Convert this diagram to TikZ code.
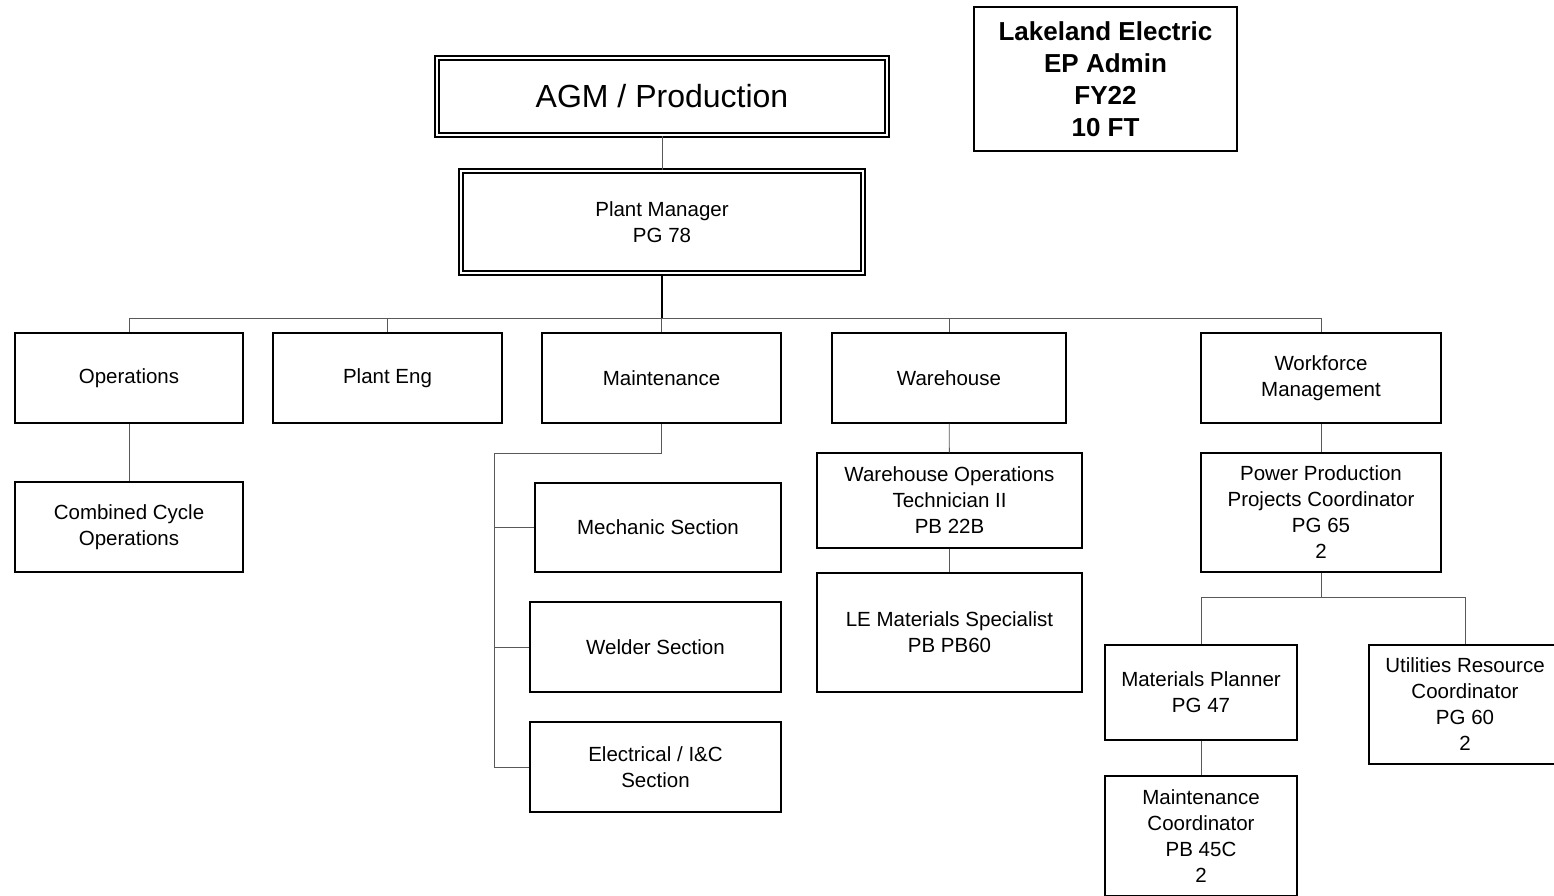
\documentclass[tikz,border=0pt]{standalone}
\usepackage{fontspec}
\setmainfont{Liberation Sans}
\usepackage{tikz}
\usetikzlibrary{calc}

\begin{document}
\begin{tikzpicture}[x=1pt, y=-1pt,
    unit/.style={draw, line width=1.4pt, align=center, inner sep=0pt, font=\fontsize{20.5}{26}\selectfont},
    headunit/.style={unit, double, double distance=2.2pt, line width=1.8pt},
    link/.style={draw=black!65, line width=0.9pt},
    trunk/.style={draw=black, line width=1.6pt}]
                    \useasboundingbox (0,0) rectangle (1554,895);
                    \node[headunit, minimum width=450, minimum height=77, font=\fontsize{32}{38}\selectfont] (agm) at (662, 96.5) {AGM / Production};
                    \node[headunit, minimum width=402, minimum height=102] (pm) at (662, 222) {Plant Manager\\PG 78};
                    \node[unit, minimum width=263, minimum height=144, font=\fontsize{26}{32}\selectfont\bfseries] (lake) at (1105.5, 79) {Lakeland Electric\\EP Admin\\FY22\\10 FT};
                    \node[unit, minimum width=228, minimum height=90] (ops) at (129, 378) {Operations};
                    \node[unit, minimum width=229, minimum height=90] (eng) at (387.5, 378) {Plant Eng};
                    \node[unit, minimum width=239, minimum height=90] (mnt) at (661.5, 378) {Maintenance};
                    \node[unit, minimum width=234, minimum height=90] (wh) at (949, 378) {Warehouse};
                    \node[unit, minimum width=240, minimum height=90] (wf) at (1321, 378) {Workforce\\Management};
                    \node[unit, minimum width=228, minimum height=90] (cco) at (129, 527) {Combined Cycle\\Operations};
                    \node[unit, minimum width=246, minimum height=89] (mech) at (658, 527.5) {Mechanic Section};
                    \node[unit, minimum width=251, minimum height=90] (weld) at (655.5, 647) {Welder Section};
                    \node[unit, minimum width=251, minimum height=90] (elec) at (655.5, 767) {Electrical / I\&C\\Section};
                    \node[unit, minimum width=265, minimum height=95] (wot) at (949.5, 500.5) {Warehouse Operations\\Technician II\\PB 22B};
                    \node[unit, minimum width=265, minimum height=119] (lems) at (949.5, 632.5) {LE Materials Specialist\\PB PB60};
                    \node[unit, minimum width=240, minimum height=119] (ppc) at (1321, 512.5) {Power Production\\Projects Coordinator\\PG 65\\2};
                    \node[unit, minimum width=192, minimum height=95] (mp) at (1201, 692.5) {Materials Planner\\PG 47};
                    \node[unit, minimum width=192, minimum height=119] (urc) at (1465, 704.5) {Utilities Resource\\Coordinator\\PG 60\\2};
                    \node[unit, minimum width=192, minimum height=120] (mc) at (1201, 836) {Maintenance\\Coordinator\\PB 45C\\2};
                    \coordinate (bus) at (662, 318);
                    \coordinate (mfork) at (494, 453);
                    \coordinate (pfork) at (1321, 597);
                    \draw[link] (agm) -- (pm);
                    \draw[trunk] (pm) -- (bus);
                    \foreach \n in {ops, eng, mnt, wh, wf}
                        \draw[link] (bus) -| (\n.north);
                    \draw[link] (ops) -- (cco);
                    \draw[link] (mnt.south) |- (mfork) -- (mfork |- elec.west) -- (elec.west);
                    \draw[link] (mfork |- mech.west) -- (mech.west);
                    \draw[link] (mfork |- weld.west) -- (weld.west);
                    \draw[link] (wh) -- (wot);
                    \draw[link] (wot) -- (lems);
                    \draw[link] (wf) -- (ppc);
                    \draw[link] (ppc.south) -- (pfork);
                    \draw[link] (pfork) -| (mp.north);
                    \draw[link] (pfork) -| (urc.north);
                    \draw[link] (mp) -- (mc);
                \end{tikzpicture}
\end{document}
